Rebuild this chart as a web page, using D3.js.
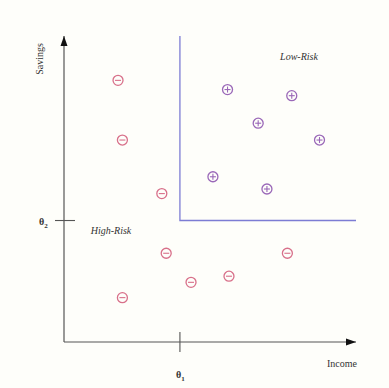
<!DOCTYPE html>
<html><head><meta charset="utf-8">
<script src="https://cdn.jsdelivr.net/npm/d3@7"></script>
<style>body{margin:0;background:#fefefa}svg{display:block}</style>
</head><body>
<script>
const highRiskIncome  = [1.85, 2.0, 3.35, 3.5, 4.35, 5.65, 7.65, 2.0];
const highRiskSavings = [8.55, 6.6, 4.85, 2.9, 1.95, 2.15, 2.9, 1.45];
const lowRiskIncome   = [5.6, 7.8, 6.65, 8.75, 5.1, 6.95];
const lowRiskSavings  = [8.25, 8.05, 7.15, 6.6, 5.4, 5.0];
const theta1 = 3.97, theta2 = 3.97;
const tickLabels = ["θ", "θ"];
const tickSubs = ["1", "2"];

const W = 389, H = 388;
const svg = d3.select("body").append("svg").attr("width", W).attr("height", H);
svg.append("rect").attr("width", W).attr("height", H).attr("fill", "#fefefa");
const x = d3.scaleLinear().domain([0, 10]).range([64, 356]);
const y = d3.scaleLinear().domain([0, 10]).range([342, 36]);

const defs = svg.append("defs");
defs.append("marker").attr("id", "arr").attr("viewBox", "0 0 10 10")
  .attr("refX", 10).attr("refY", 5).attr("markerWidth", 10).attr("markerHeight", 10)
  .attr("markerUnits", "userSpaceOnUse").attr("orient", "auto")
  .append("path").attr("d", "M0,1.5 L10,5 L0,8.5 Z").attr("fill", "#111");

// threshold lines
svg.append("path")
  .attr("d", `M${x(theta1)},${y(10)} L${x(theta1)},${y(theta2)} L${x(10)},${y(theta2)}`)
  .attr("fill", "none").attr("stroke", "#7c7cd4").attr("stroke-width", 1.3);

// axes
svg.append("line").attr("x1", x(0)).attr("y1", y(0)).attr("x2", x(0)).attr("y2", y(10))
  .attr("stroke", "#555").attr("stroke-width", 1.2).attr("marker-end", "url(#arr)");
svg.append("line").attr("x1", x(0)).attr("y1", y(0)).attr("x2", x(10)).attr("y2", y(0))
  .attr("stroke", "#555").attr("stroke-width", 1.2).attr("marker-end", "url(#arr)");

// ticks
svg.append("line").attr("x1", x(theta1)).attr("x2", x(theta1)).attr("y1", y(0) - 10).attr("y2", y(0) + 10)
  .attr("stroke", "#555").attr("stroke-width", 1.1);
svg.append("line").attr("x1", x(0) - 9).attr("x2", x(0) + 11).attr("y1", y(theta2)).attr("y2", y(theta2))
  .attr("stroke", "#555").attr("stroke-width", 1.1);

const font = "'Liberation Serif', 'DejaVu Serif', serif";
function thetaLabel(px, py, i) {
  const t = svg.append("text").attr("x", px).attr("y", py).attr("font-family", font)
    .attr("font-size", 10).attr("font-weight", "bold").attr("fill", "#333");
  t.append("tspan").text(tickLabels[i]);
  t.append("tspan").attr("dy", 3).attr("font-size", 7).text(tickSubs[i]);
}
thetaLabel(x(theta1) - 4, y(0) + 36, 0);
thetaLabel(x(0) - 25, y(theta2) + 4, 1);

// axis titles
svg.append("text").attr("x", 357).attr("y", 367).attr("text-anchor", "end")
  .attr("font-family", font).attr("font-size", 10).attr("fill", "#333").text("Income");
svg.append("text").attr("transform", "translate(43,59) rotate(-90)").attr("text-anchor", "middle")
  .attr("font-family", font).attr("font-size", 10).attr("fill", "#333").text("Savings");

// region labels
svg.append("text").attr("x", 299).attr("y", 60).attr("text-anchor", "middle")
  .attr("font-family", font).attr("font-size", 10).attr("font-style", "italic").attr("fill", "#333").text("Low-Risk");
svg.append("text").attr("x", 111).attr("y", 234).attr("text-anchor", "middle")
  .attr("font-family", font).attr("font-size", 10).attr("font-style", "italic").attr("fill", "#333").text("High-Risk");

// points
const hi = highRiskIncome.map((v, i) => ({ x: v, y: highRiskSavings[i] }));
const lo = lowRiskIncome.map((v, i) => ({ x: v, y: lowRiskSavings[i] }));
function drawPts(data, color, plus) {
  const g = svg.append("g").selectAll("g").data(data).join("g")
    .attr("transform", d => `translate(${x(d.x)},${y(d.y)})`);
  g.append("circle").attr("r", 5).attr("fill", "none").attr("stroke", color).attr("stroke-width", 1.3);
  g.append("line").attr("x1", -3).attr("x2", 3).attr("stroke", color).attr("stroke-width", 1.1);
  if (plus) g.append("line").attr("y1", -3).attr("y2", 3).attr("stroke", color).attr("stroke-width", 1.1);
}
drawPts(hi, "#d8708a", false);
drawPts(lo, "#9a68b8", true);
</script>
</body></html>
